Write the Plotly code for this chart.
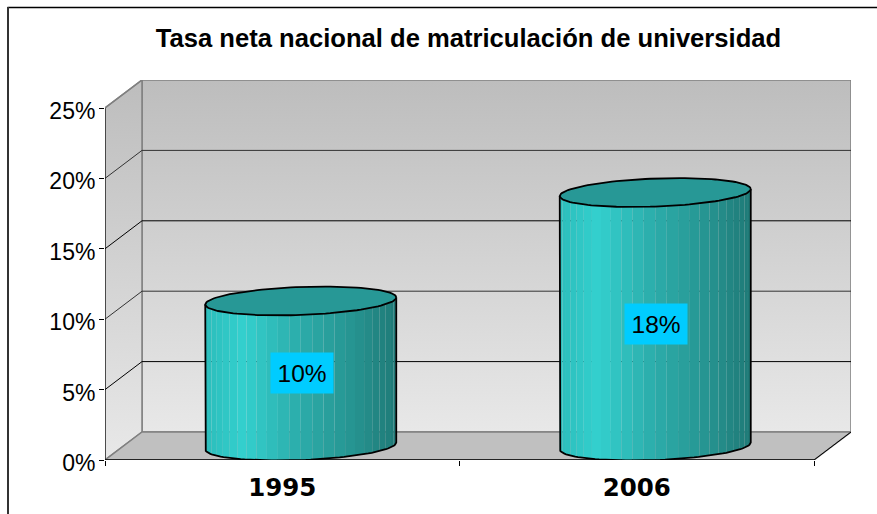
import numpy as np
import plotly.graph_objects as go

categories = ["1995", "2006"]
values = [10.3, 18.0]
labels = ["10%", "18%"]
y_ticks = [0, 5, 10, 15, 20, 25]
y_tick_labels = ["0%", "5%", "10%", "15%", "20%", "25%"]
title_text = "Tasa neta nacional de matriculación de universidad"

# layout of the 3D frame, in pixels
W, H = 877, 514
X0, X1, Y0, Y25 = 105.0, 814.0, 460.0, 108.0
DX, DY = 37.0, 28.0
UX = (X1 - X0) / 2
UY = (Y0 - Y25) / 25
dep_x, dep_y = DX / UX, DY / UY
xmax = 2 + dep_x
ymax = 25 + dep_y
bar_half = 95.5 / UX
ell_b = 14.0 / UY
ell_tilt = 3.5 / UY
cat_x = [i + 0.5 for i in range(len(categories))]

fig = go.Figure()

def poly(xs, ys, **kw):
    fig.add_trace(go.Scatter(x=xs, y=ys, mode="lines", hoverinfo="skip", showlegend=False, **kw))

GRAD = [[0, "#e8e8e8"], [1, "#bdbdbd"]]
# back wall
poly([dep_x, xmax, xmax, dep_x, dep_x], [dep_y, dep_y, ymax, ymax, dep_y], fill="toself",
     fillgradient=dict(type="vertical", colorscale=GRAD), line=dict(color="#808080", width=1.5))
# side wall
poly([0, dep_x, dep_x, 0, 0], [0, dep_y, ymax, 25, 0], fill="toself",
     fillgradient=dict(type="vertical", colorscale=GRAD), line=dict(color="#808080", width=1.5))
# floor
poly([0, 2, xmax, dep_x, 0], [0, 0, dep_y, dep_y, 0], fill="toself", fillcolor="#c0c0c0",
     line=dict(color="#808080", width=1.5))
# gridlines on side and back walls
for t in y_ticks[1:-1]:
    color = "#000000" if t % 10 else "#333333"
    poly([0, dep_x, xmax], [t, t + dep_y, t + dep_y], line=dict(color=color, width=1))
# front edges
poly([0, 0], [0, 25], line=dict(color="#000000", width=1))
poly([0, 2], [0, 0], line=dict(color="#000000", width=1.5))
poly([2, xmax], [0, dep_y], line=dict(color="#000000", width=1))
poly([0, dep_x], [25, ymax], line=dict(color="#808080", width=1.5))

# cylinders
N = 26
STOPS = [(0.0, (44, 190, 188)), (0.2, (52, 208, 206)), (0.5, (44, 172, 170)),
         (0.8, (38, 146, 143)), (1.0, (31, 122, 119))]

def shade(t):
    xs = [s[0] for s in STOPS]
    return "rgb(%d,%d,%d)" % tuple(int(np.interp(t, xs, [s[1][c] for s in STOPS])) for c in range(3))

def curve(cx, cy, ts):
    # tilted ellipse; angles from pi to 2*pi give its lower-front edge
    return cx + bar_half * np.cos(ts), cy + ell_tilt * np.cos(ts) + ell_b * np.sin(ts)

for x_c, v in zip(cat_x, values):
    cx = x_c + dep_x / 2
    base = dep_y / 2
    top = v + dep_y / 2
    edges = np.linspace(np.pi, 2 * np.pi, N + 1)
    for a, b in zip(edges[:-1], edges[1:]):
        tt = np.linspace(a, b, 5)
        bx, by = curve(cx, base, tt)
        ux, uy = curve(cx, top, tt[::-1])
        mid = (np.cos((a + b) / 2) + 1) / 2
        poly(list(bx) + list(ux) + [bx[0]], list(by) + list(uy) + [by[0]], fill="toself",
             fillcolor=shade(mid), line=dict(width=0))
    # top ellipse
    tt = np.linspace(0, 2 * np.pi, 121)
    ex, ey = curve(cx, top, tt)
    poly(list(ex), list(ey), fill="toself", fillcolor="#279896", line=dict(color="#000000", width=1.8))
    # body outline
    tt = np.linspace(np.pi, 2 * np.pi, 61)
    bx, by = curve(cx, base, tt)
    _, ly = curve(cx, top, np.array([np.pi]))
    _, ry = curve(cx, top, np.array([2 * np.pi]))
    ox = [cx - bar_half] + list(bx) + [cx + bar_half]
    oy = [ly[0]] + list(by) + [ry[0]]
    poly(ox, oy, line=dict(color="#000000", width=1.8))

for x_c, v, lab in zip(cat_x, values, labels):
    fig.add_annotation(x=x_c + dep_x / 2, y=0.452 * v + 1.53, text=lab, showarrow=False, xshift=1,
                       font=dict(family="Liberation Sans", size=24.5, color="#000000"),
                       bgcolor="#00CCFF", borderpad=6.5)

fig.update_layout(
    width=W, height=H, autosize=False,
    margin=dict(l=0, r=0, t=0, b=0),
    paper_bgcolor="#ffffff", plot_bgcolor="rgba(0,0,0,0)",
    showlegend=False,
    title=dict(text="<b>%s</b>" % title_text, x=468.5 / W, y=1 - 38 / H, xanchor="center", yanchor="middle",
               font=dict(family="Liberation Sans", size=25.6, color="#000000")),
    xaxis=dict(domain=[X0 / W, (X1 + DX) / W], range=[0, xmax], showgrid=False, zeroline=False, automargin=False,
               tickmode="array", tickvals=cat_x, ticktext=["<b>%s</b>" % c for c in categories], ticks="", showline=False,
               tickfont=dict(family="DejaVu Sans", size=24.5, color="#000000"), ticklabelstandoff=10,
               minor=dict(tickmode="array", tickvals=[0, 1, 2], ticks="outside", ticklen=5, tickcolor="#000000", tickwidth=1)),
    yaxis=dict(domain=[1 - Y0 / H, 1 - (Y25 - DY) / H], range=[0, ymax], showgrid=False, zeroline=False, automargin=False,
               tickmode="array", tickvals=y_ticks, ticktext=y_tick_labels, ticks="outside", ticklen=5,
               tickcolor="#000000", tickwidth=1, showline=False, ticklabelshift=3, ticklabelstandoff=-1,
               tickfont=dict(family="Liberation Sans", size=23, color="#000000")),
    shapes=[
        dict(type="line", xref="paper", yref="paper", x0=7.5 / W, x1=1, y0=1 - 7.5 / H, y1=1 - 7.5 / H,
             line=dict(color="#000000", width=1.5), layer="below"),
        dict(type="line", xref="paper", yref="paper", x0=8 / W, x1=8 / W, y0=0, y1=1 - 7 / H,
             line=dict(color="#333333", width=2), layer="below"),
    ],
)
fig.write_html("out.html", post_script="document.body.style.margin='0';", config={"displayModeBar": False})
